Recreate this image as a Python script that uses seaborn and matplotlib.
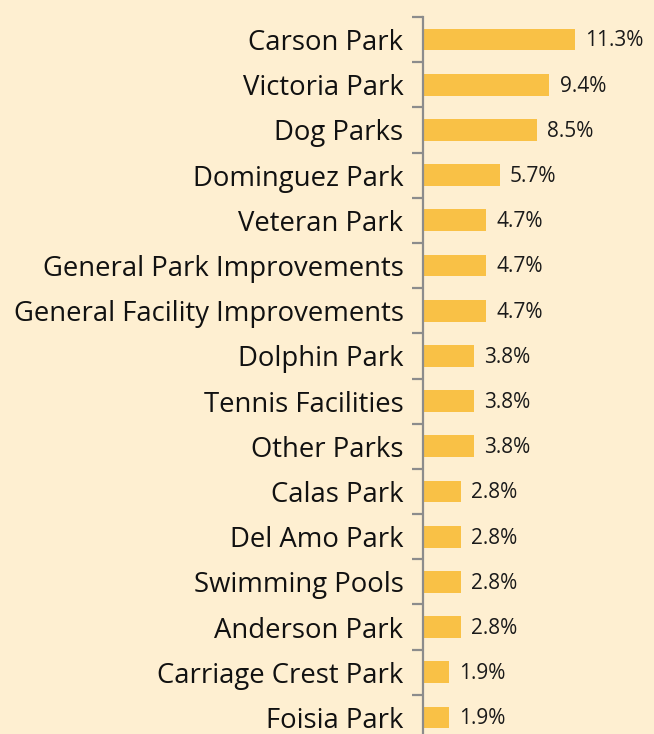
import matplotlib
matplotlib.use('Agg')
import matplotlib.pyplot as plt
import seaborn as sns
import pandas as pd
import numpy as np

parks = ["Carson Park", "Victoria Park", "Dog Parks", "Dominguez Park", "Veteran Park",
         "General Park Improvements", "General Facility Improvements", "Dolphin Park",
         "Tennis Facilities", "Other Parks", "Calas Park", "Del Amo Park",
         "Swimming Pools", "Anderson Park", "Carriage Crest Park", "Foisia Park"]
shares = [11.3, 9.4, 8.5, 5.7, 4.7, 4.7, 4.7, 3.8, 3.8, 3.8, 2.8, 2.8, 2.8, 2.8, 1.9, 1.9]

bg = "#FEEFD1"
bar_color = "#F9C146"

sns.set_style("white")
plt.rcParams['font.family'] = ['Open Sans', 'DejaVu Sans']

df = pd.DataFrame({"park": parks, "share": shares})

fig = plt.figure(figsize=(6.54, 7.34), dpi=100, facecolor=bg)
ax = fig.add_axes([423 / 654, -6 / 734, 1 - 423 / 654, 723 / 734])
ax.set_facecolor(bg)

sns.barplot(data=df, x="share", y="park", color=bar_color, width=0.48,
            saturation=1, linewidth=0, ax=ax)

for i, v in enumerate(shares):
    ax.text(v + 0.75, i + 0.03, f"{v}%", va="center", ha="left", fontsize=15, color="#1A1A1A")

ax.set_xlim(0, 231 / 13.45)
ax.set_ylim(len(parks) - 0.5, -0.5)
ax.set_xlabel("")
ax.set_ylabel("")
ax.set_xticks([])
for s in ["top", "right", "bottom"]:
    ax.spines[s].set_visible(False)
ax.spines["left"].set_color("#8C8C8C")
ax.spines["left"].set_linewidth(1.6)

ax.set_yticks(np.arange(-0.5, len(parks)), minor=True)
ax.tick_params(axis="y", which="major", length=0, pad=14, labelsize=19.8, labelcolor="#111111")
ax.tick_params(axis="y", which="minor", length=8, width=1.6, color="#8C8C8C", left=True)

plt.savefig("out.png", dpi=100, facecolor=bg)
